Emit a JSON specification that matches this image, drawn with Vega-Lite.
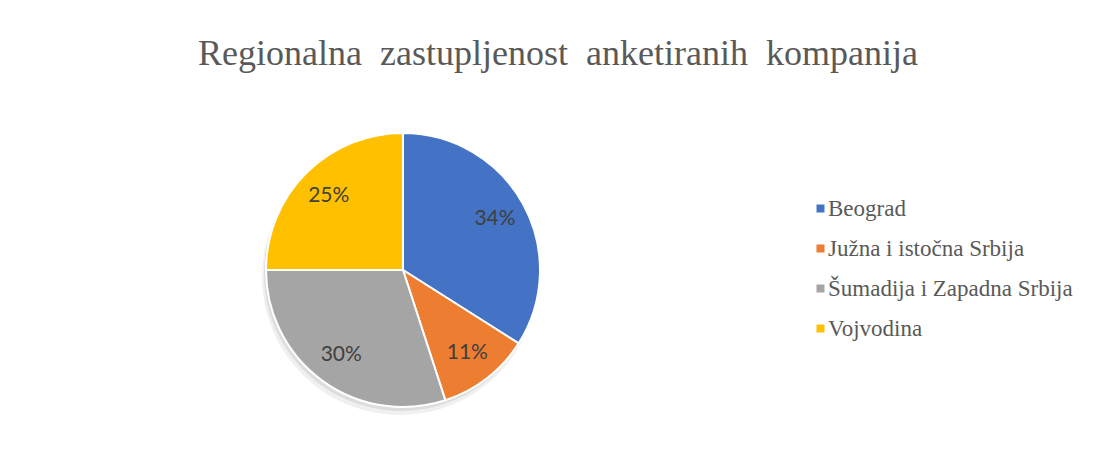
{
  "$schema": "https://vega.github.io/schema/vega-lite/v6.json",
  "autosize": "none",
  "width": 806,
  "height": 274,
  "padding": {"left": 0, "top": 133, "right": 291, "bottom": 49},
  "background": "white",
  "title": {
    "text": "Regionalna\u00a0 zastupljenost\u00a0 anketiranih\u00a0 kompanija",
    "font": "Liberation Serif",
    "fontSize": 36,
    "fontWeight": "normal",
    "color": "#595959",
    "anchor": "middle",
    "baseline": "alphabetic",
    "offset": 28,
    "dx": 155
  },
  "data": {
    "values": [
      {"region": "Beograd", "share": 0.34, "ord": 1},
      {"region": "Južna i istočna Srbija", "share": 0.11, "ord": 2},
      {"region": "Šumadija i Zapadna Srbija", "share": 0.30, "ord": 3},
      {"region": "Vojvodina", "share": 0.25, "ord": 4}
    ]
  },
  "encoding": {
    "theta": {"field": "share", "type": "quantitative", "stack": true},
    "order": {"field": "ord", "type": "quantitative"}
  },
  "layer": [
    {
      "mark": {"type": "arc", "outerRadius": 138, "color": "black", "opacity": 0.06, "xOffset": -3, "yOffset": 7}
    },
    {
      "mark": {"type": "arc", "outerRadius": 137, "color": "black", "opacity": 0.08, "xOffset": -2, "yOffset": 4}
    },
    {
      "mark": {"type": "arc", "outerRadius": 137, "stroke": "white", "strokeWidth": 2},
      "encoding": {
        "color": {
          "field": "region",
          "type": "nominal",
          "sort": ["Beograd", "Južna i istočna Srbija", "Šumadija i Zapadna Srbija", "Vojvodina"],
          "scale": {
            "domain": ["Beograd", "Južna i istočna Srbija", "Šumadija i Zapadna Srbija", "Vojvodina"],
            "range": ["#4472C4", "#ED7D31", "#A5A5A5", "#FFC000"]
          },
          "legend": {
            "title": null,
            "orient": "none",
            "legendX": 809,
            "legendY": 64,
            "symbolType": "square",
            "symbolSize": 64,
            "symbolStrokeWidth": 0,
            "labelFont": "Liberation Serif",
            "labelFontSize": 23,
            "labelColor": "#595959",
            "labelOffset": -4,
            "rowPadding": 16,
            "labelLimit": 400
          }
        }
      }
    },
    {
      "mark": {"type": "text", "radius": 105, "font": "Lato", "fontSize": 21, "color": "#404040"},
      "encoding": {
        "text": {"field": "share", "type": "quantitative", "format": ".0%"}
      }
    }
  ],
  "config": {"view": {"stroke": null}}
}
